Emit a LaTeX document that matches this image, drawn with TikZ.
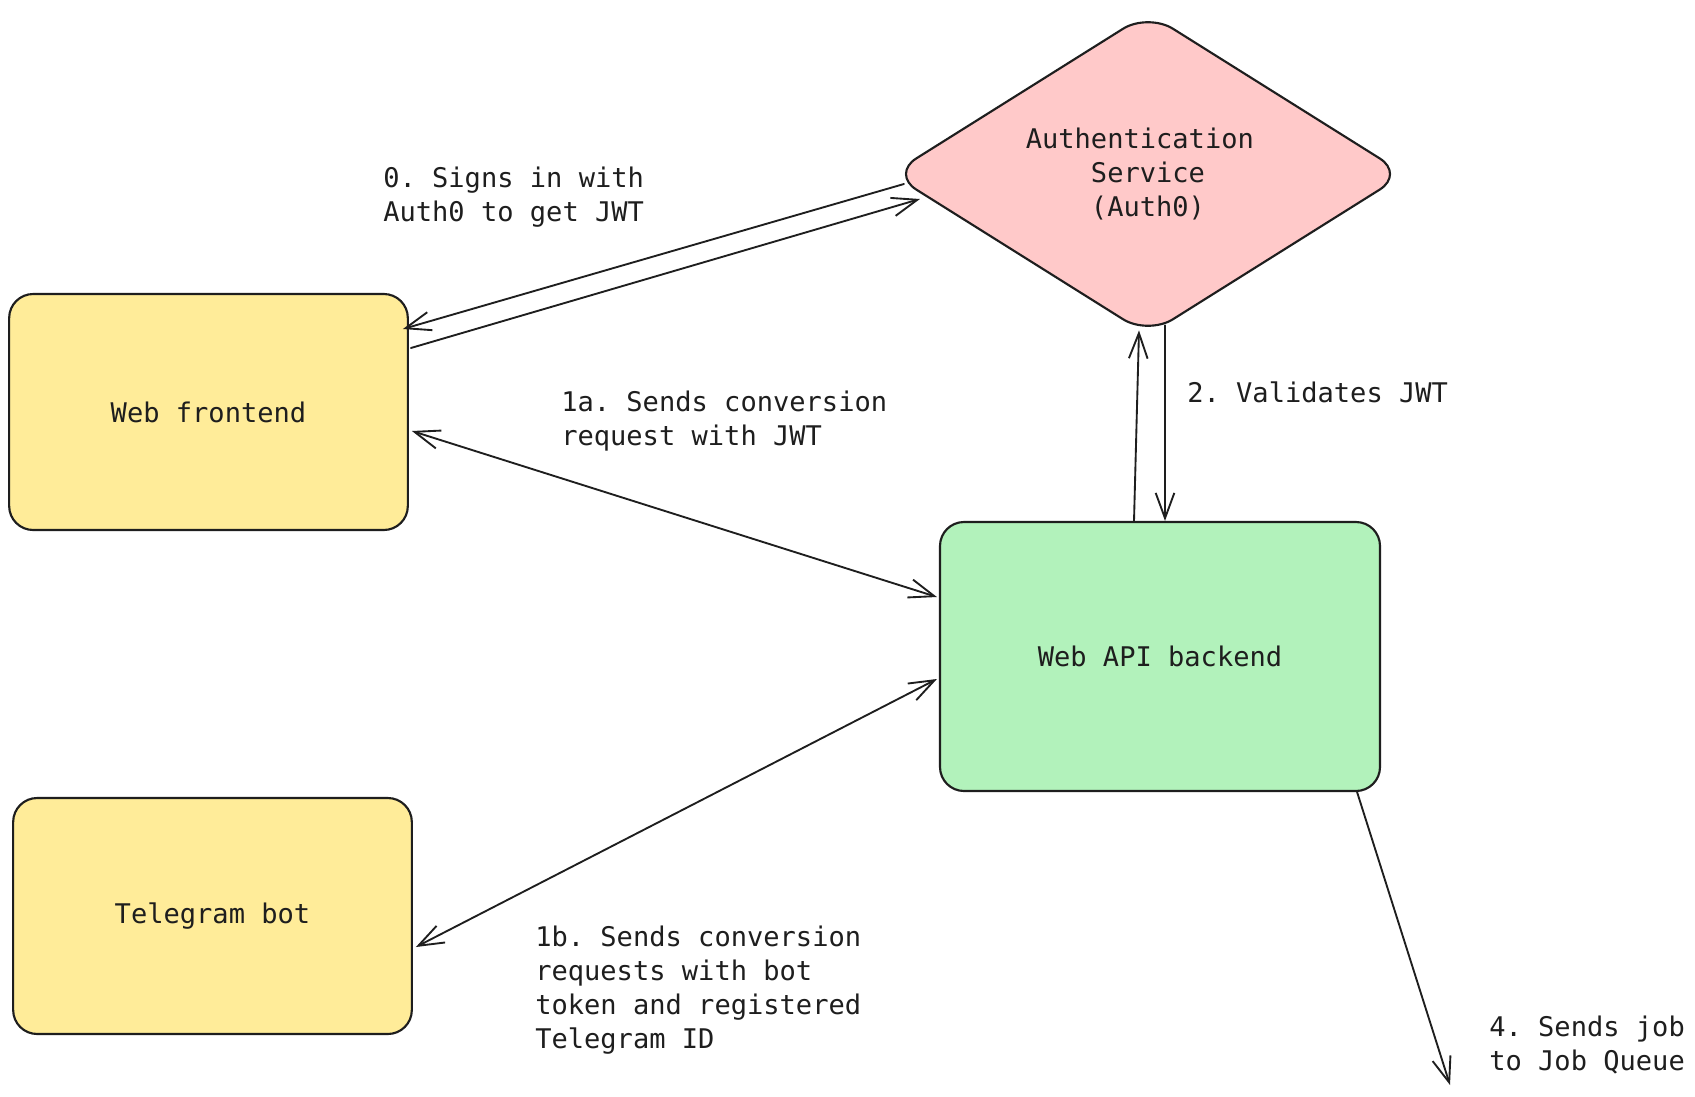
\documentclass[tikz,border=0pt]{standalone}
\usepackage{fontspec}
\setmonofont{DejaVu Sans Mono}
\usetikzlibrary{arrows.meta,shapes.geometric,calc}

\definecolor{ink}{HTML}{1E1E1E}
\definecolor{boxyellow}{HTML}{FFEC99}
\definecolor{boxgreen}{HTML}{B2F2BB}
\definecolor{boxpink}{HTML}{FFC9C9}

\begin{document}
\begin{tikzpicture}[x=0.75pt,y=-0.75pt,
  every node/.style={font=\ttfamily\fontsize{20.3}{25.5}\selectfont, text=ink},
  service/.style={draw=ink, line width=1.6pt, rounded corners=18pt,
    minimum width=299pt, minimum height=177pt, inner sep=0pt},
  barb/.tip={Straight Barb[length=19pt,width=14pt,line width=1.4pt]},
  flow/.style={draw=ink, line width=1.4pt, line cap=round, -barb},
  twoway/.style={draw=ink, line width=1.4pt, line cap=round, barb-barb},
  note/.style={anchor=base west, align=left, inner sep=0pt}]

\fill[white] (0,0) rectangle (1695,1096);
\useasboundingbox (0,0) rectangle (1695,1096);

% services
\node[service, fill=boxyellow] (web) at (208.5,412) {Web frontend};
\node[service, fill=boxyellow] (tg) at (212.5,916) {Telegram bot};
\node[service, fill=boxgreen, minimum width=330pt, minimum height=201.75pt]
  (api) at (1160,656.5) {Web API backend};
\node[diamond, aspect=1.6, draw=ink, line width=1.6pt, fill=boxpink,
  rounded corners=22pt, minimum width=385.5pt, minimum height=242pt,
  inner sep=0pt, align=center]
  (auth) at (1148,174) {Authentication\hphantom{x}\\Service\\(Auth0)};

% sign-in exchange with the auth service
\draw[flow] ($(auth.west)+(14,10)$) -- ($(web.east)+(-6,-83)$);
\draw[flow] ($(web.east)+(2,-64)$) -- ($(auth.west)+(30,25)$);

% conversion requests
\draw[twoway] ($(web.east)+(3,19)$) -- ($(api.west)+(-2,-59.5)$);
\draw[twoway] ($(tg.east)+(3,31)$) -- ($(api.west)+(-2,22.5)$);

% token validation
\draw[flow] ($(api.north)+(-26,0)$) -- ($(auth.south)+(-9,-6)$);
\draw[flow] ($(auth.south)+(17,-11)$) -- ($(api.north)+(5,0)$);

% job hand-off
\coordinate (queue) at (1450,1085);
\draw[flow] ($(api.south east)+(-24,0)$) -- (queue);

% labels (anchored at the baseline of their last line)
\node[note] (l0) at (383,221) {0. Signs in with\\Auth0 to get JWT};
\node[note] (l1a) at (561,445) {1a. Sends conversion\\request with JWT};
\node[note] (l2) at (1187,402) {2. Validates JWT};
\node[note] (l1b) at (535,1048) {1b. Sends conversion\\requests with bot\\token and registered\\Telegram ID};
\node[note] (l4) at (1489,1070) {4. Sends job\\to Job Queue};
\end{tikzpicture}
\end{document}
